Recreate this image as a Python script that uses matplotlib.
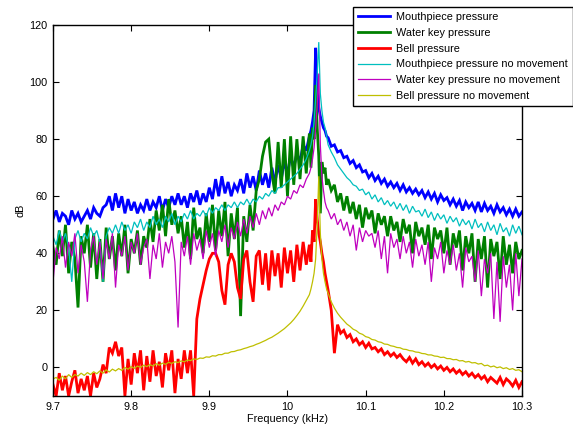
import numpy as np
import matplotlib
matplotlib.use("Agg")
import matplotlib.pyplot as plt

plt.rcParams['font.family'] = ['Liberation Sans', 'DejaVu Sans']

# frequency grid (kHz): coarse, fine around the resonance, coarse
freq = np.concatenate([np.linspace(9.7, 10.024, 82),
                       np.linspace(10.028, 10.050, 12),
                       np.linspace(10.052, 10.3, 63)])

labels = ["Mouthpiece pressure", "Water key pressure", "Bell pressure",
          "Mouthpiece pressure no movement", "Water key pressure no movement",
          "Bell pressure no movement"]

mouthpiece_db = [
    52, 55, 51, 54, 53, 50, 55, 52, 54, 51,
    53, 55, 52, 56, 54, 53, 56, 57, 60, 55,
    61, 56, 60, 54, 59, 55, 58, 54, 57, 55,
    59, 55, 58, 56, 60, 55, 59, 56, 60, 57,
    61, 57, 60, 56, 61, 58, 62, 57, 61, 58,
    63, 59, 66, 60, 67, 61, 65, 60, 64, 62,
    66, 61, 68, 63, 67, 62, 69, 64, 68, 63,
    70, 65, 71, 66, 72, 68, 74, 70, 75, 72,
    78, 76,
    81, 83, 86, 90, 112, 97, 91, 88, 86, 84, 83, 81,
    80.5, 77.5, 78, 75.5, 76, 73.5, 74, 71.5, 72.5, 70,
    71, 68.5, 69, 66.5, 68, 65.5, 67, 64.5, 66, 63.5,
    65, 63, 64.5, 62, 64, 61.5, 63, 61, 62.5, 60.5,
    62, 59.5, 61.5, 59, 61, 58, 60.5, 58.5, 59.5, 57,
    59, 56.5, 58.5, 55, 58, 56, 57.5, 55, 58, 54.5,
    57.5, 55, 56.5, 54, 57, 54.5, 56, 53.5, 55.5, 53,
    55.5, 53, 54.5]

waterkey_db = [
    42, 36, 48, 39, 50, 33, 44, 38, 21, 46,
    40, 50, 35, 47, 31, 45, 30, 49, 38, 46,
    34, 47, 39, 50, 33, 45, 40, 48, 36, 46,
    42, 52, 44, 55, 48, 57, 46, 59, 50, 55,
    47, 53, 42, 51, 38, 56, 45, 49, 40, 54,
    44, 57, 41, 55, 46, 58, 39, 54, 45, 56,
    18, 53, 44, 57, 48, 62, 66, 74, 79, 80,
    68, 61, 79, 63, 80, 60, 81, 64, 80, 66,
    81, 68,
    82, 70, 84, 80, 99, 84, 74, 54, 72, 68, 70, 64,
    66, 62, 64, 58, 61, 55, 60, 54, 58, 52,
    57, 49, 56, 52, 55, 47, 54, 50, 53, 46,
    53, 48, 51, 44, 52, 47, 50, 40, 51, 46,
    49, 43, 50, 38, 49, 45, 48, 40, 49, 36,
    47, 42, 48, 34, 46, 40, 47, 30, 45, 38,
    46, 28, 45, 39, 44, 31, 46, 36, 43, 33,
    44, 38, 41]

bell_db = [
    -6, -10, -2, -8, -3, -10, -5, -1, -9, -4,
    -8, -3, -10, -2, -7, -4, 1, -2, 7, 5,
    9, 4, 7, -10, 3, -6, 5, -2, 6, -8,
    4, -5, 6, -3, 2, -7, 5, -1, 6, -9,
    3, -4, 6, -2, 6, -10, 17, 24, 29, 34,
    38, 40, 40, 37, 27, 22, 36, 40, 37, 28,
    24, 38, 41, 30, 23, 39, 41, 29, 40, 27,
    41, 32, 40, 28, 42, 33, 41, 30, 43, 34,
    44, 36,
    43, 37, 48, 44, 59, 52, 47, 44, 40, 37, 33, 30,
    27, 20, 5, 15, 12, 13, 10.5, 11.5, 9, 10,
    8, 9, 7, 8.5, 6.5, 7, 5.5, 6.5, 4.5, 5.5,
    4, 5, 3.5, 4.5, 3, 2, 3.5, 1.5, 3, 1,
    2, 0.5, 1.5, 0, 1, -0.5, 0.5, -1, 0, -1.5,
    -0.5, -2, -1, -2.5, -1.5, -3, -2, -3.5, -2.5, -4,
    -3, -5, -3.5, -4.5, -5.5, -3.5, -6, -4, -5, -6.5,
    -4.5, -7, -5]

mouthpiece_still_db = [
    46, 43, 48, 44, 47, 42, 30, 45, 48, 44,
    47, 45, 49, 46, 48, 44, 30, 46, 49, 47,
    50, 47, 51, 48, 50, 47, 51, 49, 52, 48,
    51, 49, 53, 50, 52, 49, 53, 51, 54, 50,
    53, 51, 54, 52, 55, 52, 54, 53, 55, 53,
    56, 54, 56, 55, 57, 55, 57, 56, 58, 56,
    58, 57, 59, 57, 59, 58, 60, 59, 61, 60,
    62, 61, 63, 63, 64, 65, 66, 67, 68, 69.5,
    71, 73,
    76, 78, 81, 86, 94, 103, 114, 96, 90, 86, 84, 81,
    78, 75.5, 73.5, 71, 69.5, 68, 66.5, 65.5, 64, 63.5,
    62, 62.5, 60.5, 61.5, 59, 60.5, 58, 59.5, 57, 58.5,
    56.5, 58, 55.5, 57.5, 55, 57, 54, 56.5, 54.5, 55,
    53, 55.5, 52.5, 54.5, 51.5, 54, 52, 53.5, 50.5, 53,
    51, 52.5, 49.5, 52, 50, 51.5, 48.5, 52, 49, 50.5,
    47.5, 51, 48, 50, 46.5, 50.5, 47.5, 49, 46, 50,
    47, 49.5, 46.5]

waterkey_still_db = [
    30, 42, 38, 46, 35, 44, 39, 47, 33, 43,
    37, 23, 41, 46, 36, 44, 31, 45, 38, 47,
    28, 43, 39, 46, 34, 44, 40, 47, 36, 42,
    45, 31, 43, 38, 47, 35, 44, 40, 46, 37,
    14, 44, 39, 46, 36, 47, 41, 45, 38, 48,
    42, 47, 39, 48, 44, 50, 42, 49, 45, 51,
    46, 52, 47, 53, 49, 54, 50, 55, 52, 56,
    53, 57, 55, 58, 57, 60, 59, 62, 61, 64,
    63, 66,
    68, 70, 73, 77, 84, 92, 103, 78, 67, 62, 58, 56,
    55, 52, 54, 50, 52, 48, 51, 46, 50, 41,
    49, 44, 48, 46, 47, 42, 48, 38, 46, 33,
    47, 42, 45, 38, 46, 40, 44, 35, 45, 39,
    43, 36, 44, 30, 42, 38, 44, 33, 41, 36,
    43, 34, 40, 28, 42, 37, 39, 30, 41, 25,
    38, 33, 40, 17, 37, 16, 39, 28, 36, 20,
    40, 25, 38]

bell_still_db = [
    -4, -3.5, -4.5, -3, -4, -2.5, -3.5, -2.5, -3, -2,
    -2.8, -1.8, -2.5, -1.5, -2.2, -1.2, -2, -0.8, -1.6, -0.6,
    -1.2, -0.4, -1, 0, -0.6, 0.3, -0.3, 0.5, 0, 0.8,
    0.3, 1, 0.5, 1.3, 0.8, 1.5, 1.1, 1.8, 1.4, 2,
    1.7, 2.3, 2, 2.6, 2.4, 3, 2.8, 3.3, 3.2, 3.7,
    3.6, 4.1, 4.0, 4.5, 4.5, 5, 5, 5.5, 5.6, 6,
    6.2, 6.6, 6.9, 7.3, 7.6, 8.1, 8.5, 9, 9.5, 10.1,
    10.6, 11.3, 12, 12.8, 13.6, 14.6, 15.6, 16.8, 18.2, 19.7,
    21.5, 23.5,
    25.5, 27.5, 30, 33, 38, 50, 67, 47, 38, 33, 30, 27.5,
    26, 23, 20.8, 19, 17.6, 16.4, 15.2, 14.4, 13.4, 12.9,
    12, 11.6, 10.8, 10.5, 9.8, 9.6, 9, 8.8, 8.2, 8.1,
    7.6, 7.4, 7, 6.9, 6.4, 6.3, 5.9, 5.8, 5.4, 5.3,
    4.9, 4.8, 4.4, 4.4, 4, 3.9, 3.5, 3.6, 3.1, 3.1,
    2.7, 2.8, 2.3, 2.4, 1.9, 2.1, 1.6, 1.7, 1.2, 1.4,
    0.6, 0.8, 0.2, 0.5, -0.1, 0.2, -0.4, -0.1, -0.7, -0.4,
    -1.0, -0.8, -1.5]

series = [mouthpiece_db, waterkey_db, bell_db,
          mouthpiece_still_db, waterkey_still_db, bell_still_db]
colors = ['#0000ff', '#008000', '#ff0000', '#00bfbf', '#bf00bf', '#bfbf00']
widths = [2.0, 2.0, 2.0, 0.9, 0.9, 0.9]

xticks = [9.7, 9.8, 9.9, 10.0, 10.1, 10.2, 10.3]
xticklabels = ['9.7', '9.8', '9.9', '10', '10.1', '10.2', '10.3']
yticks = [0, 20, 40, 60, 80, 100, 120]

fs = 7.8
fig = plt.figure(figsize=(5.73, 4.28), dpi=100)
ax = fig.add_axes([53 / 573, 32 / 428, 469 / 573, 371 / 428])

for vals, c, lw, lab in zip(series, colors, widths, labels):
    assert len(vals) == len(freq), (lab, len(vals))
    ax.plot(freq, vals, color=c, lw=lw, label=lab, solid_joinstyle='miter')

ax.set_xlim(9.7, 10.3)
ax.set_ylim(-10, 120)
ax.set_xticks(xticks)
ax.set_xticklabels(xticklabels)
ax.set_yticks(yticks)
ax.tick_params(direction='in', top=True, right=True, labelsize=fs,
               length=4, width=0.8, pad=4)
for s in ax.spines.values():
    s.set_linewidth(1.0)
ax.set_xlabel('Frequency (kHz)', fontsize=fs, labelpad=2)
ax.set_ylabel('dB', fontsize=fs, labelpad=3)

leg = fig.legend(loc='upper right', bbox_to_anchor=(1.0, 1 - 7 / 428),
                 fontsize=fs, frameon=True, fancybox=False, shadow=False,
                 framealpha=1, edgecolor='black', borderaxespad=0,
                 handlelength=2.95, labelspacing=0.54, borderpad=0.45,
                 handletextpad=0.6)
leg.get_frame().set_linewidth(1.0)

fig.savefig('out.png', dpi=100)
